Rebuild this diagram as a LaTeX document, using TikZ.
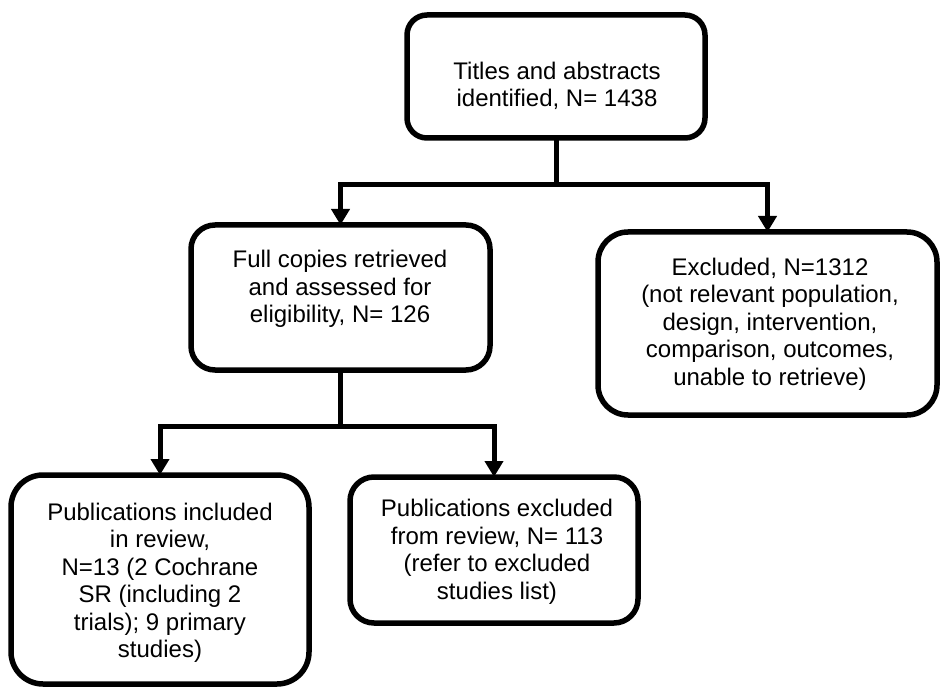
\documentclass[tikz,border=0pt]{standalone}
\usepackage{fontspec}
\setmainfont{Liberation Sans}
\usetikzlibrary{arrows.meta}
\begin{document}
\begin{tikzpicture}[x=1pt,y=-1pt,
  box/.style={draw=black, fill=white, line width=5.5pt, inner sep=0pt, outer sep=0pt},
  txt/.style={align=center, inner sep=0pt, font=\fontsize{24pt}{27.5pt}\selectfont},
  conn/.style={draw=black, line width=5pt},
  arr/.style={conn, -{Triangle[width=18pt,length=16pt]}}]
\useasboundingbox (0,0) rectangle (940,687);
% boxes
\node[box, rounded corners=20pt, minimum width=298pt, minimum height=123pt] (b1) at (556,76.5) {};
\node[box, rounded corners=24pt, minimum width=299pt, minimum height=145pt] (b2) at (340.5,297.5) {};
\node[box, rounded corners=30pt, minimum width=339pt, minimum height=183pt] (b3) at (767.5,323.5) {};
\node[box, rounded corners=32pt, minimum width=298pt, minimum height=209pt] (b4) at (160,579.5) {};
\node[box, rounded corners=24pt, minimum width=288pt, minimum height=146pt] (b5) at (494,550) {};
% texts
\node[txt] (t1) at (557,86) {Titles and abstracts\\identified, N= 1438};
\node[txt] (t2) at (340,289) {Full copies retrieved\\and assessed for\\eligibility, N= 126};
\node[txt] (t3) at (770,324) {Excluded, N=1312\\(not relevant population,\\design, intervention,\\comparison, outcomes,\\unable to retrieve)};
\node[txt] (t4) at (160,583) {Publications included\\in review,\\N=13 (2 Cochrane\\SR (including 2\\trials); 9 primary\\studies)};
\node[txt] (t5) at (497,552) {Publications excluded\\from review, N= 113\\(refer to excluded\\studies list)};
% junctions
\coordinate (j1) at (556,185);
\coordinate (j2) at (340.5,426);
% connectors
\draw[conn] (b1.south) -- (j1);
\draw[arr] (j1) -| (b2.north);
\draw[arr] (j1) -| (b3.north);
\draw[conn] (b2.south) -- (j2);
\draw[arr] (j2) -| (b4.north);
\draw[arr] (j2) -| (b5.north);
\end{tikzpicture}
\end{document}
